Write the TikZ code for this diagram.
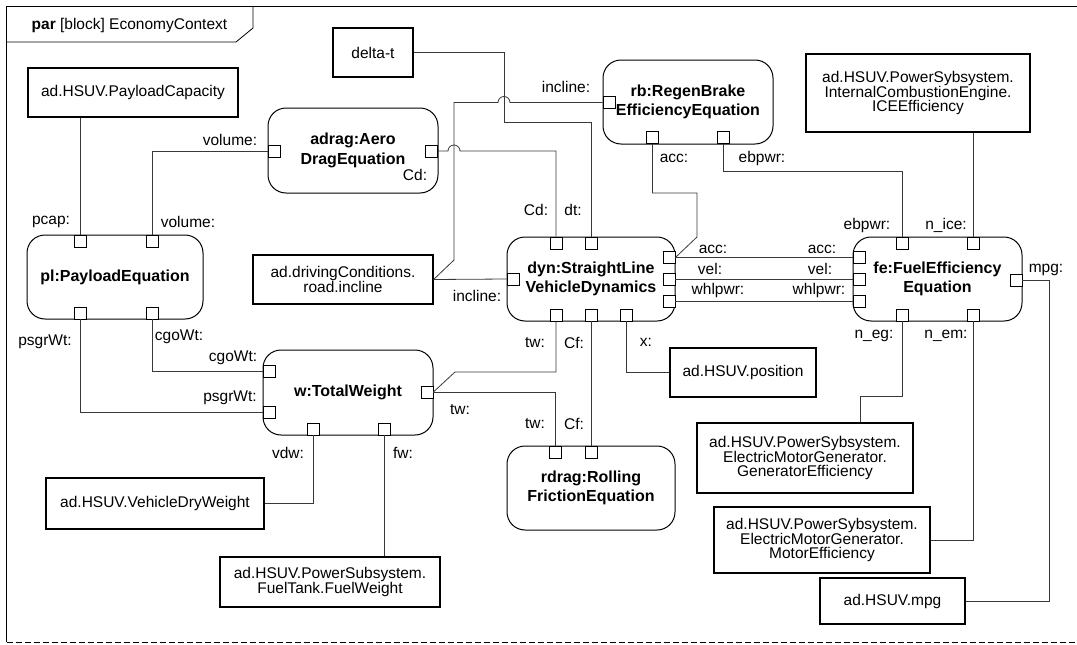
\documentclass[tikz,border=0pt]{standalone}
\usepackage{fontspec}
\setmainfont{Liberation Sans}
\begin{document}
\begin{tikzpicture}[x=1pt,y=-1pt,
  every node/.style={inner sep=0pt},
  txt/.style={font=\fontsize{15.5}{15}\selectfont},
  conn/.style={draw=black!78, line width=0.8pt},
  valbox/.style={draw, line width=1.2pt, align=center, font=\fontsize{15.5}{14.8}\selectfont},
  blk/.style={draw, line width=1pt, rounded corners=18pt, align=center, font=\bfseries\fontsize{16}{19.5}\selectfont},
  port/.style={draw, line width=0.8pt, fill=white, minimum size=12pt, inner sep=0pt},
  lbl/.style={font=\fontsize{15.5}{15.5}\selectfont}]
\useasboundingbox (0,0) rectangle (1077,645);
% frame
\draw[line width=1pt] (1080,6.5) -- (6.5,6.5) -- (6.5,642);
\draw[line width=1pt, dash pattern=on 6pt off 3pt] (6.5,642) -- (1080,642);
\draw[line width=0.8pt] (6.5,42) -- (236,42) -- (253,28) -- (253,6.5);
\node[txt, anchor=west] (title) at (31.5,25) {\textbf{par} [block] EconomyContext};

% blocks
\node[blk, minimum width=170pt, minimum height=85pt] (adrag) at (353,150.5) {adrag:Aero\\DragEquation};
\node[blk, minimum width=170pt, minimum height=84pt] (rb) at (688,102) {rb:RegenBrake\\EfficiencyEquation};
\node[blk, minimum width=176pt, minimum height=84pt] (pl) at (115,277) {pl:PayloadEquation};
\node[blk, minimum width=168pt, minimum height=84pt] (dyn) at (591,279) {dyn:StraightLine\\VehicleDynamics};
\node[blk, minimum width=169pt, minimum height=84pt] (fe) at (937.5,279) {fe:FuelEfficiency\\Equation};
\node[blk, minimum width=170pt, minimum height=85pt] (w) at (348,392.5) {w:TotalWeight};
\node[blk, minimum width=168pt, minimum height=84pt] (rdrag) at (591,488) {rdrag:Rolling\\FrictionEquation};

% value boxes
\node[valbox, minimum width=210pt, minimum height=49pt] (pc) at (133,92.5) {ad.HSUV.PayloadCapacity};
\node[valbox, minimum width=80pt, minimum height=49pt] (dt) at (373,52.5) {delta-t};
\node[valbox, minimum width=224pt, minimum height=78pt] (ice) at (918,93) {ad.HSUV.PowerSybsystem.\\InternalCombustionEngine.\\ICEEfficiency};
\node[valbox, minimum width=180pt, minimum height=49pt] (dc) at (343,279.5) {ad.drivingConditions.\\road.incline};
\node[valbox, minimum width=146pt, minimum height=49pt] (pos) at (743,372.5) {ad.HSUV.position};
\node[valbox, minimum width=218pt, minimum height=51pt] (vdw) at (155,503.5) {ad.HSUV.VehicleDryWeight};
\node[valbox, minimum width=220pt, minimum height=50pt] (fw) at (330,582) {ad.HSUV.PowerSubsystem.\\FuelTank.FuelWeight};
\node[valbox, minimum width=216pt, minimum height=70pt] (geff) at (805,458) {ad.HSUV.PowerSybsystem.\\ElectricMotorGenerator.\\GeneratorEfficiency};
\node[valbox, minimum width=216pt, minimum height=66pt] (meff) at (822,540) {ad.HSUV.PowerSybsystem.\\ElectricMotorGenerator.\\MotorEfficiency};
\node[valbox, minimum width=145pt, minimum height=46pt] (mpg) at (892.5,601) {ad.HSUV.mpg};

% ports
\node[port] (adv) at (274,151) {};
\node[port] (adc) at (431.5,151) {};
\node[port] (rbi) at (609,102.5) {};
\node[port] (rba) at (652.5,137.5) {};
\node[port] (rbe) at (723.5,137.5) {};
\node[port] (plpc) at (80,241) {};
\node[port] (plv) at (152,241) {};
\node[port] (plps) at (80,313) {};
\node[port] (plc) at (152,313) {};
\node[port] (dcd) at (556,243) {};
\node[port] (ddt) at (591,243) {};
\node[port] (dinc) at (513,279) {};
\node[port] (dacc) at (669,257.5) {};
\node[port] (dvel) at (669,279) {};
\node[port] (dwp) at (669,301) {};
\node[port] (dtw) at (556,315) {};
\node[port] (dcf) at (591,315) {};
\node[port] (dx) at (626.5,315) {};
\node[port] (feeb) at (902.5,243) {};
\node[port] (fenice) at (973,243) {};
\node[port] (feacc) at (859,257.5) {};
\node[port] (fevel) at (859,279) {};
\node[port] (fewp) at (859,301) {};
\node[port] (fempg) at (1016,280) {};
\node[port] (feneg) at (902,315) {};
\node[port] (fenem) at (973,315) {};
\node[port] (wc) at (269,371.5) {};
\node[port] (wp) at (269,412.5) {};
\node[port] (wtw) at (427,392) {};
\node[port] (wvdw) at (313.5,429) {};
\node[port] (wfw) at (384,429) {};
\node[port] (rtw) at (555.5,452) {};
\node[port] (rcf) at (591,452) {};

% connectors
\draw[conn] (plpc.north) -- (plpc.north |- pc.south);
\draw[conn] (adv.west) -| (plv.north);
\draw[conn] (plc.south) |- (wc.west);
\draw[conn] (plps.south) |- (wp.west);
\draw[conn] (dt.east) -| (504,122) -| (ddt.north);
\draw[conn] (dc.east) -- (454,260) -- (454,102.5) -- (498,102.5) arc[start angle=180, end angle=360, radius=6] -- (rbi.west);
\draw[conn] (adc.east) -- (448,151) arc[start angle=180, end angle=360, radius=6] -- (460,151) -| (dcd.north);
\draw[conn] (dc.east) -- (dinc.west);
\draw[conn] (rba.south) |- (697,193) -- (697,237) -- (dacc.east);
\draw[conn] (rbe.south) |- (902.5,171) -- (feeb.north);
\draw[conn] (fenice.north |- ice.south) -- (fenice.north);
\draw[conn] (dacc.east) -- (feacc.west);
\draw[conn] (dvel.east) -- (fevel.west);
\draw[conn] (dwp.east) -- (fewp.west);
\draw[conn] (fempg.east) -- ++(27,0) |- (mpg.east);
\draw[conn] (feneg.south) |- (860,396) -- ([xshift=55pt]geff.north);
\draw[conn] (fenem.south) |- (meff.east);
\draw[conn] (dx.south) |- (pos.west);
\draw[conn] (dtw.south) |- (455,372) -- (wtw.east);
\draw[conn] (wtw.east) -| (rtw.north);
\draw[conn] (dcf.south) -- (rcf.north);
\draw[conn] (wvdw.south) |- (vdw.east);
\draw[conn] (wfw.south) -- (wfw.south |- fw.north);

% labels
\node[lbl] (l1) at (230,140) {volume:};
\node[lbl] (l2) at (51,222) {pcap:};
\node[lbl] (l3) at (188,222) {volume:};
\node[lbl] (l4) at (45,342) {psgrWt:};
\node[lbl] (l5) at (179,337) {cgoWt:};
\node[lbl] (l6) at (233,358) {cgoWt:};
\node[lbl] (l7) at (230,398) {psgrWt:};
\node[lbl] (l8) at (288,453) {vdw:};
\node[lbl] (l9) at (403,453) {fw:};
\node[lbl] (l10) at (460,410) {tw:};
\node[lbl] (l11) at (535,343) {tw:};
\node[lbl] (l12) at (574,343) {Cf:};
\node[lbl] (l13) at (535,424) {tw:};
\node[lbl] (l14) at (574,424) {Cf:};
\node[lbl] (l15) at (646,342) {x:};
\node[lbl] (l16) at (477,296) {incline:};
\node[lbl] (l17) at (536,210) {Cd:};
\node[lbl] (l18) at (573,210) {dt:};
\node[lbl] (l19) at (415,175) {Cd:};
\node[lbl] (l20) at (566,87) {incline:};
\node[lbl] (l21) at (674,158) {acc:};
\node[lbl] (l22) at (762,158) {ebpwr:};
\node[lbl] (l23) at (867,225) {ebpwr:};
\node[lbl] (l24) at (946,225) {n\_ice:};
\node[lbl] (l25) at (713,249) {acc:};
\node[lbl] (l26) at (710,269) {vel:};
\node[lbl] (l27) at (718,290) {whlpwr:};
\node[lbl] (l28) at (822,249) {acc:};
\node[lbl] (l29) at (820,269) {vel:};
\node[lbl] (l30) at (819,290) {whlpwr:};
\node[lbl] (l31) at (1046,270) {mpg:};
\node[lbl] (l32) at (874,336) {n\_eg:};
\node[lbl] (l33) at (946,336) {n\_em:};
\end{tikzpicture}
\end{document}
